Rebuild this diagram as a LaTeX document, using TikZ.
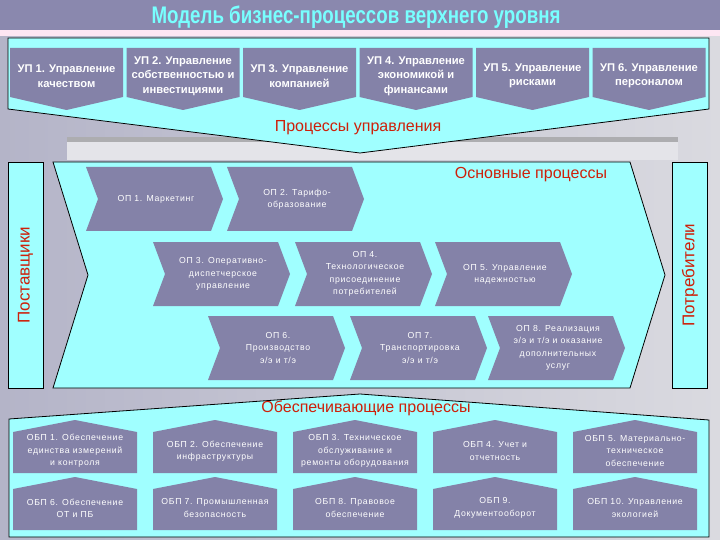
\documentclass[tikz,border=0pt]{standalone}
\usepackage{fontspec}
\setmainfont{Liberation Sans}
\newfontfamily\spacedfont[LetterSpace=8]{Liberation Sans}
\usepackage{tikz}

\definecolor{barcolor}{RGB}{138,136,174}
\definecolor{boxcolor}{RGB}{132,130,168}
\definecolor{panelcolor}{RGB}{160,255,255}
\definecolor{labelred}{RGB}{206,32,10}
\definecolor{titlecyan}{RGB}{120,255,255}
\definecolor{bgleft}{RGB}{180,180,200}
\definecolor{bgright}{RGB}{218,218,224}

\begin{document}
\begin{tikzpicture}[x=1pt,y=-1pt,
  panel/.style={fill=panelcolor,draw=black,line width=0.8pt},
  procbox/.style={fill=boxcolor},
  uptext/.style={text=white,align=center,font=\bfseries\fontsize{11.2}{14.5}\selectfont},
  optext/.style={text=white,align=center,font=\spacedfont\fontsize{8.7}{12.3}\selectfont},
  grouplabel/.style={text=labelred,font=\fontsize{16}{18}\selectfont},
  sidebox/.style={panel,rotate=90,minimum width=226pt,minimum height=35pt,
    inner sep=0pt,text=labelred,font=\fontsize{17}{19}\selectfont}]
  \useasboundingbox (0,0) rectangle (720,540);
  % background
  \shade[left color=bgleft,right color=bgright] (0,0) rectangle (720,540);
  \fill[barcolor] (0,0) rectangle (720,30);
  \fill[white!90!magenta] (0,30) rectangle (720,36);
  \fill[white!28!bgright] (67,137) rectangle (678,160);
  \fill[gray!50!bgright] (67,137) rectangle (678,142);
  \node[text=titlecyan,font=\bfseries\fontsize{24}{26}\selectfont] (title) at (356,17)
    {\scalebox{0.78}[1]{Модель бизнес-процессов верхнего уровня}};

  % management processes
  \draw[panel] (8,38) -- (709,38) -- (709,109) -- (360,153) -- (8,109) -- cycle;
  \foreach \i/\l/\txt in {1/10/{УП 1. Управление\\качеством},
      2/126.5/{УП 2. Управление\\собственностью и\\инвестициями},
      3/243/{УП 3. Управление\\компанией},
      4/359.5/{УП 4. Управление\\экономикой и\\финансами},
      5/476/{УП 5. Управление\\рисками},
      6/592.5/{УП 6. Управление\\персоналом}} {
    \fill[procbox] (\l,48) -- ++(113,0) -- ++(0,49) -- ++(-56.5,13) -- ++(-56.5,-13) -- cycle;
    \node[uptext] (up\i) at ({\l+56.5},76) {\txt};
  }
  \node[grouplabel] (mgmt) at (358,128) {Процессы управления};

  % core processes
  \node[sidebox] (suppliers) at (25.5,275) {Поставщики};
  \node[sidebox] (consumers) at (690,275) {Потребители};
  \draw[panel] (53,162) -- (630,162) -- (665,275) -- (630,388) -- (53,388) -- (88,275) -- cycle;
  \node[grouplabel] (core) at (531,175) {Основные процессы};
  \foreach \i/\l/\t/\txt in {1/86/167/{ОП 1. Маркетинг},
      2/227/167/{ОП 2. Тарифо-\\образование},
      3/153/242/{ОП 3. Оперативно-\\диспетчерское\\управление},
      4/295/242/{ОП 4.\\Технологическое\\присоединение\\потребителей},
      5/435/242/{ОП 5. Управление\\надежностью},
      6/208/316/{ОП 6.\\Производство\\э/э и т/э},
      7/350/316/{ОП 7.\\Транспортировка\\э/э и т/э},
      8/488/316/{ОП 8. Реализация\\э/э и т/э и оказание\\дополнительных\\услуг}} {
    \fill[procbox] (\l,\t) -- ++(125,0) -- ++(12,32) -- ++(-12,32) -- ++(-125,0) -- ++(12,-32) -- cycle;
    \node[optext] (op\i) at ({\l+70},{\t+32}) {\txt};
  }

  % support processes
  \draw[panel] (9,419) -- (360,394) -- (709,420) -- (709,537) -- (9,537) -- cycle;
  \node[grouplabel] (support) at (366,408) {Обеспечивающие процессы};
  \foreach \i/\l/\p/\txt in {1/13/420/{ОБП 1. Обеспечение\\единства измерений\\и контроля},
      2/153/420/{ОБП 2. Обеспечение\\инфраструктуры},
      3/293/420/{ОБП 3. Техническое\\обслуживание и\\ремонты оборудования},
      4/433/420/{ОБП 4. Учет и\\отчетность},
      5/573/420/{ОБП 5. Материально-\\техническое\\обеспечение},
      6/13/477/{ОБП 6. Обеспечение\\ОТ и ПБ},
      7/153/477/{ОБП 7. Промышленная\\безопасность},
      8/293/477/{ОБП 8. Правовое\\обеспечение},
      9/433/477/{ОБП 9.\\Документооборот},
      10/573/477/{ОБП 10. Управление\\экологией}} {
    \fill[procbox] (\l,{\p+12}) -- ++(62,-12) -- ++(62,12) -- ++(0,41) -- ++(-124,0) -- cycle;
    \node[optext] (obp\i) at ({\l+62},{\p+31}) {\txt};
  }
\end{tikzpicture}
\end{document}
